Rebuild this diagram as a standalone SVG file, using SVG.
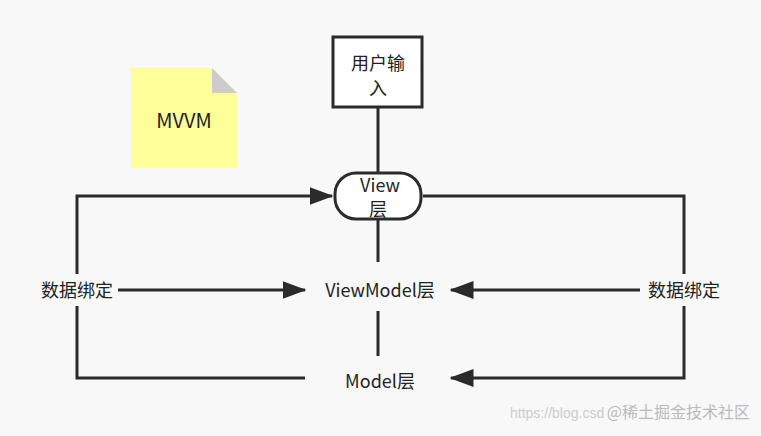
<svg xmlns="http://www.w3.org/2000/svg" width="761" height="436" viewBox="0 0 761 436">
<style>
.t{font-family:"Microsoft YaHei","Noto Sans CJK SC",sans-serif;font-size:18px;fill:#222;text-anchor:middle}
.l{stroke:#2b2b2b;stroke-width:3;fill:none}
</style>
<defs><marker id="a" markerWidth="8" markerHeight="6" refX="7.5" refY="3" orient="auto" markerUnits="strokeWidth"><path d="M0,0L8,3L0,6z" fill="#2b2b2b"/></marker></defs>
<rect width="761" height="436" fill="#f8f8f8"/>
<g id="note"><path d="M131,68H212L237,93V168H131z" fill="#ffff99"/><path d="M212,68V93H237z" fill="#cccccc"/><text class="t" x="184" y="128" style="font-size:20px">MVVM</text></g>
<g id="connectors">
<path class="l" d="M378,107V173M378,219V262M378,311V356"/>
<path class="l" d="M77,274V196H332" marker-end="url(#a)"/>
<path class="l" d="M77,306V378H305"/>
<path class="l" d="M423,196H684V274M684,306V378H451" marker-end="url(#a)"/>
<path class="l" d="M118,290H305" marker-end="url(#a)"/>
<path class="l" d="M640,290H451" marker-end="url(#a)"/>
</g>
<g id="input"><rect x="333" y="37" width="89" height="70" fill="#fff" stroke="#2b2b2b" stroke-width="3"/><text class="t" x="378" y="70">用户输</text><text class="t" x="378" y="95">入</text></g>
<g id="view"><rect x="335" y="173" width="86" height="46" rx="21" fill="#fff" stroke="#2b2b2b" stroke-width="3"/><text class="t" x="380" y="192">View</text><text class="t" x="378" y="216">层</text></g>
<g id="vm"><text class="t" x="380" y="297">ViewModel层</text></g>
<g id="model"><text class="t" x="380" y="388">Model层</text></g>
<g id="bindL"><text class="t" x="77" y="297">数据绑定</text></g>
<g id="bindR"><text class="t" x="684" y="297">数据绑定</text></g>
<text x="510" y="418" style="font-family:'Liberation Sans',sans-serif;font-size:14px;fill:#ccc">https://blog.csd</text>
<text x="750" y="418" style="font-family:'Noto Sans CJK SC',sans-serif;font-size:16px;fill:#bbb;text-anchor:end">@稀土掘金技术社区</text>
</svg>
